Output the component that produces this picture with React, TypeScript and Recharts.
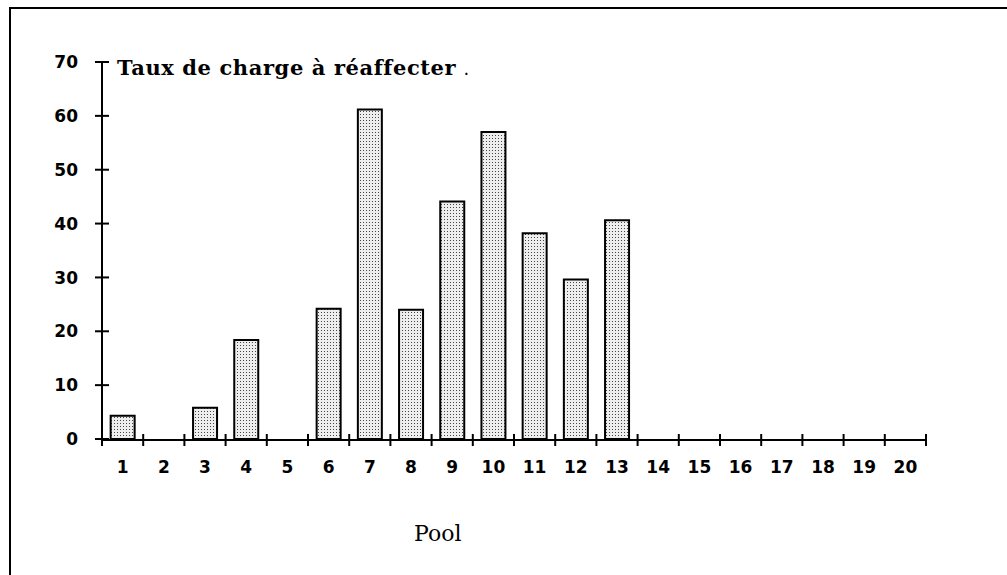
import React from "react";
import { Bar, BarChart, XAxis, YAxis } from "recharts";

const pools = ["1", "2", "3", "4", "5", "6", "7", "8", "9", "10", "11", "12", "13", "14", "15", "16", "17", "18", "19", "20"];
const taux = [4.3, 0, 5.8, 18.4, 0, 24.2, 61.2, 24, 44.1, 57, 38.2, 29.6, 40.6, 0, 0, 0, 0, 0, 0, 0];
const yTicks = [0, 10, 20, 30, 40, 50, 60, 70];
const boundaries = [0, 1, 2, 3, 4, 5, 6, 7, 8, 9, 10, 11, 12, 13, 14, 15, 16, 17, 18, 19, 20];

const data = pools.map((pool, i) => ({ pool, taux: taux[i], pos: i + 0.5 }));

const TICK_FONT = "'DejaVu Sans', sans-serif";

// y tick: crossing tick mark + bold label on the left
function YTick(props: any) {
  const { x, y, payload } = props;
  return (
    <g>
      <line x1={x - 7} x2={x + 7} y1={y} y2={y} stroke="#000" strokeWidth={2} />
      <text
        x={x - 24}
        y={y}
        dy="0.36em"
        textAnchor="end"
        fontFamily={TICK_FONT}
        fontWeight="bold"
        fontSize={17}
        fill="#000"
      >
        {payload.value}
      </text>
    </g>
  );
}

// boundary marks between pools
function GridTick(props: any) {
  const { x, y } = props;
  return <line x1={x} x2={x} y1={y - 6} y2={y + 6} stroke="#000" strokeWidth={2} />;
}

function PoolTick(props: any) {
  const { x, y, payload } = props;
  return (
    <text
      x={x}
      y={y + 34}
      textAnchor="middle"
      fontFamily={TICK_FONT}
      fontWeight="bold"
      fontSize={17}
      fill="#000"
    >
      {payload.value}
    </text>
  );
}

export default function App() {
  return (
    <div style={{ position: "absolute", left: 0, top: 0, width: 1007, height: 575, background: "#fff" }}>
      <div
        style={{
          position: "absolute",
          left: 9,
          top: 7,
          width: 998,
          height: 568,
          borderTop: "2px solid #000",
          borderLeft: "2px solid #000",
          boxSizing: "border-box",
        }}
      />
      <BarChart
        width={1007}
        height={575}
        data={data}
        margin={{ top: 62, right: 81, bottom: 134, left: 42 }}
        barCategoryGap="21%"
      >
        <defs>
          <pattern id="stipple" width="3" height="3" patternUnits="userSpaceOnUse">
            <rect width="3" height="3" fill="#eeeeee" />
            <rect width="1" height="1" fill="#444" />
          </pattern>
        </defs>
        <YAxis
          width={60}
          domain={[0, 70]}
          ticks={yTicks}
          interval={0}
          tickSize={0}
          tickMargin={0}
          tickLine={false}
          axisLine={{ stroke: "#000", strokeWidth: 2 }}
          tick={<YTick />}
        />
        <XAxis
          dataKey="pool"
          height={1}
          interval={0}
          tickSize={0}
          tickMargin={0}
          tickLine={false}
          axisLine={false}
          tick={<PoolTick />}
        />
        <XAxis
          xAxisId="grid"
          type="number"
          dataKey="pos"
          domain={[0, 20]}
          ticks={boundaries}
          interval={0}
          height={1}
          tickSize={0}
          tickMargin={0}
          tickLine={false}
          axisLine={{ stroke: "#000", strokeWidth: 2 }}
          tick={<GridTick />}
        />
        <Bar
          dataKey="taux"
          fill="url(#stipple)"
          stroke="#000"
          strokeWidth={2}
          isAnimationActive={false}
        />
      </BarChart>
      <div
        style={{
          position: "absolute",
          left: 117,
          top: 55,
          fontFamily: "'DejaVu Serif', serif",
          fontWeight: "bold",
          fontSize: 21,
          letterSpacing: 0.6,
          whiteSpace: "nowrap",
        }}
      >
        Taux de charge à réaffecter <span style={{ fontSize: 12 }}>.</span>
      </div>
      <div
        style={{
          position: "absolute",
          left: 414,
          top: 521,
          fontFamily: "'DejaVu Serif', serif",
          fontSize: 22,
          whiteSpace: "nowrap",
        }}
      >
        Pool
      </div>
    </div>
  );
}
